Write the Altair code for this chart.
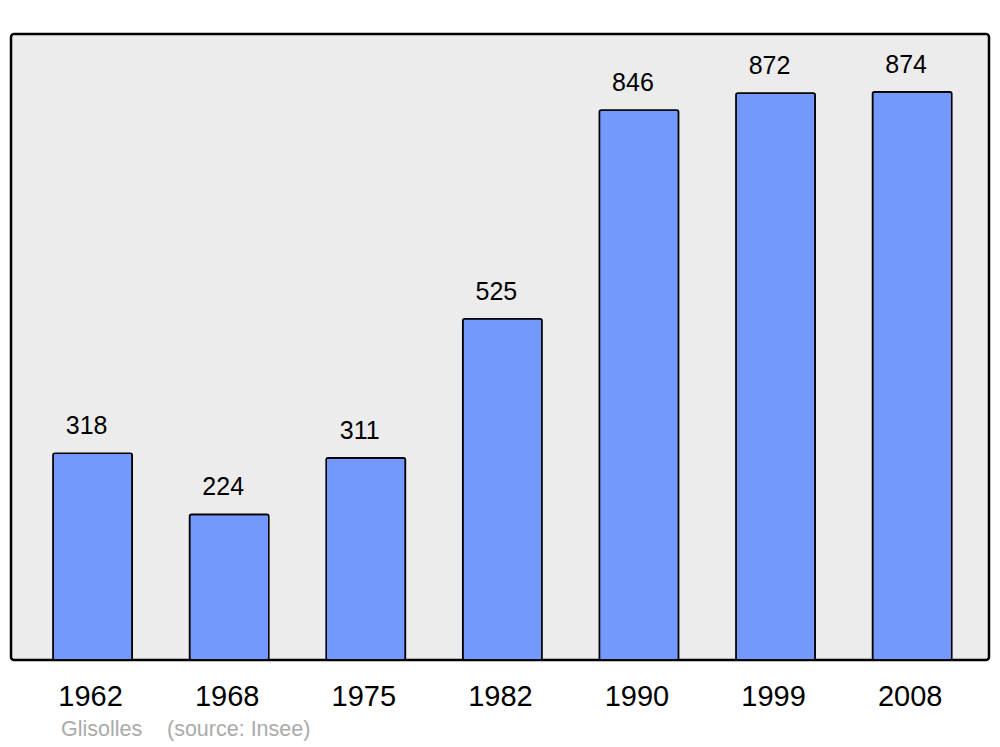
import altair as alt
import pandas as pd

years = ["1962", "1968", "1975", "1982", "1990", "1999", "2008"]
population = [318, 224, 311, 525, 846, 872, 874]
commune = ["Glisolles"]
source = ["(source: Insee)"]

df = pd.DataFrame({"year": years, "pop": population})

x = alt.X(
    "year:N",
    sort=years,
    title=None,
    scale=alt.Scale(paddingInner=0.42, paddingOuter=0.29, align=0.53),
    axis=alt.Axis(
        labelAngle=0,
        labelFontSize=29,
        labelFont="Liberation Sans",
        labelColor="black",
        labelPadding=22,
        labelOffset=-2,
        ticks=False,
        domain=False,
        grid=False,
    ),
)
y = alt.Y("pop:Q", scale=alt.Scale(domain=[0, 963], nice=False, zero=True), axis=None)

bars = alt.Chart(df).mark_bar(
    color="#7399ff", stroke="black", strokeWidth=1.6, cornerRadius=2
).encode(x=x, y=y)

labels = alt.Chart(df).mark_text(
    baseline="alphabetic", dy=-19, dx=-6, fontSize=25, font="Liberation Sans", color="black"
).encode(x=x, y=y, text="pop:Q")

src1 = alt.Chart(pd.DataFrame({"t": commune})).mark_text(
    align="left", baseline="alphabetic", fontSize=21.5, font="Liberation Sans", color="#aaaaaa"
).encode(x=alt.value(50), y=alt.value(702), text="t:N")

src2 = alt.Chart(pd.DataFrame({"t": source})).mark_text(
    align="left", baseline="alphabetic", fontSize=21.5, font="Liberation Sans", color="#aaaaaa"
).encode(x=alt.value(156), y=alt.value(702), text="t:N")

chart = alt.layer(bars, labels, src1, src2).properties(
    width=978,
    height=626,
    autosize=alt.AutoSizeParams(type="none"),
    padding={"left": 3, "top": 26, "right": 3, "bottom": 83},
    background="white",
).configure_view(
    fill="#ececec", stroke="black", strokeWidth=2.5, cornerRadius=3
)

chart.save("out.html", embed_options={"renderer": "svg", "actions": False})
